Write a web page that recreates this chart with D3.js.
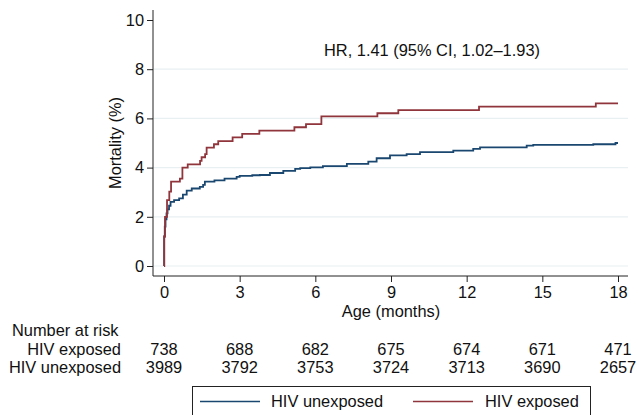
<!DOCTYPE html>
<html>
<head>
<meta charset="utf-8">
<script src="https://cdn.jsdelivr.net/npm/d3@7"></script>
<style>
  body { margin: 0; background: #fff; }
  text { font-family: "Liberation Sans", Arial, sans-serif; fill: #111; }
</style>
</head>
<body>
<div id="app"></div>
<script>
// step curves: [months, mortality %]
let hivExposed = [
  [0, 0], [0.005, 1.2], [0.04, 2.0], [0.12, 2.68], [0.21, 3.02], [0.28, 3.43],
  [0.63, 3.55], [0.73, 4.0], [0.94, 4.13], [1.43, 4.27], [1.49, 4.42], [1.63, 4.55],
  [1.69, 4.81], [1.98, 4.95], [2.15, 5.08], [2.72, 5.23], [3.10, 5.37], [3.78, 5.5],
  [5.17, 5.64], [5.63, 5.77], [6.24, 6.08], [8.46, 6.21], [9.29, 6.34], [12.49, 6.48],
  [17.12, 6.61], [18, 6.61]
];
let hivUnexposed = [
  [0, 0], [0.01, 1.2], [0.03, 1.6], [0.06, 1.9], [0.1, 2.14], [0.14, 2.3], [0.2, 2.45],
  [0.26, 2.61], [0.4, 2.68], [0.6, 2.75], [0.75, 2.9], [0.9, 3.06], [1.1, 3.15],
  [1.42, 3.22], [1.55, 3.3], [1.62, 3.43], [2.0, 3.48], [2.4, 3.55], [2.88, 3.62],
  [3.0, 3.66], [3.5, 3.69], [3.8, 3.70], [4.2, 3.78], [4.73, 3.87], [5.2, 3.95],
  [5.4, 3.98], [5.8, 4.01], [6.3, 4.06], [7.25, 4.15], [8.1, 4.24], [8.43, 4.38],
  [8.96, 4.5], [9.62, 4.55], [10.15, 4.63], [11.47, 4.69], [12.26, 4.76], [12.53, 4.82],
  [14.38, 4.89], [14.64, 4.92], [17.02, 4.95], [17.9, 5.0], [18, 5.0]
];
let xTicks = [0, 3, 6, 9, 12, 15, 18];
let yTicks = [0, 2, 4, 6, 8, 10];
let gridTicks = [0, 2, 4, 6, 8];
let atRiskExposed = [738, 688, 682, 675, 674, 671, 471];
let atRiskUnexposed = [3989, 3792, 3753, 3724, 3713, 3690, 2657];

let width = 638;
let height = 415;
let fs = "16.4px";

let svg = d3.select("#app")
  .append("svg")
  .attr("width", width)
  .attr("height", height);

const x = d3.scaleLinear().domain([0, 18]).range([164, 618]);
const y = d3.scaleLinear().domain([0, 10]).range([266, 20]);

// gridlines
svg.append("g")
  .selectAll("line")
  .data(gridTicks)
  .join("line")
  .attr("x1", 153).attr("x2", 628)
  .attr("y1", d => y(d)).attr("y2", d => y(d))
  .attr("stroke", "#e8f0f2")
  .attr("stroke-width", 1.2);

// axes
let yAxis = svg.append("g")
  .attr("transform", "translate(153,0)")
  .call(d3.axisLeft(y).tickValues(yTicks).tickSize(6).tickPadding(3).tickFormat(d3.format("d")));
yAxis.select(".domain").attr("d", "M0,10V276");
let xAxis = svg.append("g")
  .attr("transform", "translate(0,276)")
  .call(d3.axisBottom(x).tickValues(xTicks).tickSize(6).tickPadding(4).tickFormat(d3.format("d")));
xAxis.select(".domain").attr("d", "M153,0H628");
svg.selectAll(".tick text").attr("font-size", fs).attr("font-family", "Liberation Sans, Arial, sans-serif").attr("fill", "#111");
svg.selectAll(".domain, .tick line").attr("stroke", "#222");

// curves
const line = d3.line()
  .x(d => x(d[0]))
  .y(d => y(d[1]))
  .curve(d3.curveStepAfter);

svg.append("path")
  .datum(hivUnexposed)
  .attr("fill", "none")
  .attr("stroke", "#1a476f")
  .attr("stroke-width", 1.8)
  .attr("d", line);
svg.append("path")
  .datum(hivExposed)
  .attr("fill", "none")
  .attr("stroke", "#90353b")
  .attr("stroke-width", 1.8)
  .attr("d", line);

// annotation
svg.append("text")
  .attr("x", 432).attr("y", 56)
  .attr("text-anchor", "middle")
  .attr("font-size", fs)
  .text("HR, 1.41 (95% CI, 1.02\u20131.93)");

// axis titles
svg.append("text")
  .attr("x", 391).attr("y", 317)
  .attr("text-anchor", "middle")
  .attr("font-size", fs)
  .text("Age (months)");
svg.append("text")
  .attr("transform", "translate(121,143) rotate(-90)")
  .attr("text-anchor", "middle")
  .attr("font-size", fs)
  .text("Mortality (%)");

// number at risk
svg.append("text")
  .attr("x", 12).attr("y", 336)
  .attr("font-size", fs)
  .text("Number at risk");
let rows = [["HIV exposed", atRiskExposed, 355], ["HIV unexposed", atRiskUnexposed, 373]];
rows.forEach(r => {
  svg.append("text")
    .attr("x", 121).attr("y", r[2])
    .attr("text-anchor", "end")
    .attr("font-size", fs)
    .text(r[0]);
  svg.append("g")
    .selectAll("text")
    .data(r[1])
    .join("text")
    .attr("x", (d, i) => x(xTicks[i]))
    .attr("y", r[2])
    .attr("text-anchor", "middle")
    .attr("font-size", fs)
    .text(d => d);
});

// legend
let legend = svg.append("g");
legend.append("rect")
  .attr("x", 192.5).attr("y", 386.5)
  .attr("width", 398).attr("height", 40)
  .attr("fill", "#fff")
  .attr("stroke", "#222");
let legendItems = [
  {name: "HIV unexposed", color: "#1a476f", x1: 200, x2: 260, tx: 271},
  {name: "HIV exposed", color: "#90353b", x1: 413, x2: 473, tx: 485}
];
legendItems.forEach(it => {
  legend.append("line")
    .attr("x1", it.x1).attr("x2", it.x2)
    .attr("y1", 401.5).attr("y2", 401.5)
    .attr("stroke", it.color)
    .attr("stroke-width", 1.5);
  legend.append("text")
    .attr("x", it.tx).attr("y", 407)
    .attr("font-size", fs)
    .text(it.name);
});
</script>
</body>
</html>
